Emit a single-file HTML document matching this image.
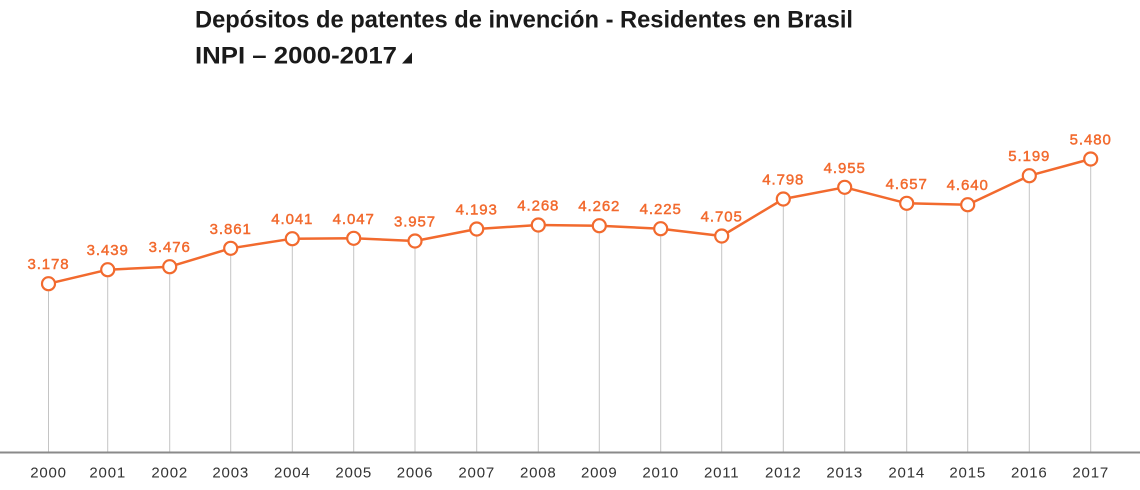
<!DOCTYPE html>
<html>
<head>
<meta charset="utf-8">
<style>
html,body{margin:0;padding:0;background:#fff;}
svg{display:block;}
</style>
</head>
<body>
<svg width="1140" height="490" viewBox="0 0 1140 490" xmlns="http://www.w3.org/2000/svg" font-family="Liberation Sans, sans-serif">
<text x="195" y="27.5" font-size="24" font-weight="bold" fill="#1a1a1a" textLength="658" lengthAdjust="spacingAndGlyphs">Depósitos de patentes de invención - Residentes en Brasil</text>
<text x="195" y="63.5" font-size="24" font-weight="bold" fill="#1a1a1a" textLength="202" lengthAdjust="spacingAndGlyphs">INPI – 2000-2017</text>
<polygon points="402,63.5 412,63.5 412,52.5" fill="#1a1a1a"/>

<g stroke="#c4c4c4" stroke-width="1">
<line x1="48.5" y1="283.7" x2="48.5" y2="452"/>
<line x1="107.7" y1="269.7" x2="107.7" y2="452"/>
<line x1="169.7" y1="266.7" x2="169.7" y2="452"/>
<line x1="230.7" y1="248.3" x2="230.7" y2="452"/>
<line x1="292.3" y1="238.7" x2="292.3" y2="452"/>
<line x1="353.7" y1="238.3" x2="353.7" y2="452"/>
<line x1="415" y1="241" x2="415" y2="452"/>
<line x1="476.7" y1="229" x2="476.7" y2="452"/>
<line x1="538.3" y1="225" x2="538.3" y2="452"/>
<line x1="599.3" y1="225.7" x2="599.3" y2="452"/>
<line x1="660.7" y1="228.7" x2="660.7" y2="452"/>
<line x1="721.7" y1="236" x2="721.7" y2="452"/>
<line x1="783.3" y1="199" x2="783.3" y2="452"/>
<line x1="844.7" y1="187.3" x2="844.7" y2="452"/>
<line x1="906.7" y1="203.3" x2="906.7" y2="452"/>
<line x1="967.7" y1="204.7" x2="967.7" y2="452"/>
<line x1="1029.3" y1="175.7" x2="1029.3" y2="452"/>
<line x1="1090.7" y1="159" x2="1090.7" y2="452"/>
</g>
<line x1="0" y1="452.5" x2="1140" y2="452.5" stroke="#8a8a8a" stroke-width="2"/>

<polyline fill="none" stroke="#f26a2e" stroke-width="2.5" stroke-linejoin="round" points="48.5,283.7 107.7,269.7 169.7,266.7 230.7,248.3 292.3,238.7 353.7,238.3 415,241 476.7,229 538.3,225 599.3,225.7 660.7,228.7 721.7,236 783.3,199 844.7,187.3 906.7,203.3 967.7,204.7 1029.3,175.7 1090.7,159"/>

<g fill="#fff" stroke="#f26a2e" stroke-width="2.2">
<circle cx="48.5" cy="283.7" r="6.5"/>
<circle cx="107.7" cy="269.7" r="6.5"/>
<circle cx="169.7" cy="266.7" r="6.5"/>
<circle cx="230.7" cy="248.3" r="6.5"/>
<circle cx="292.3" cy="238.7" r="6.5"/>
<circle cx="353.7" cy="238.3" r="6.5"/>
<circle cx="415" cy="241" r="6.5"/>
<circle cx="476.7" cy="229" r="6.5"/>
<circle cx="538.3" cy="225" r="6.5"/>
<circle cx="599.3" cy="225.7" r="6.5"/>
<circle cx="660.7" cy="228.7" r="6.5"/>
<circle cx="721.7" cy="236" r="6.5"/>
<circle cx="783.3" cy="199" r="6.5"/>
<circle cx="844.7" cy="187.3" r="6.5"/>
<circle cx="906.7" cy="203.3" r="6.5"/>
<circle cx="967.7" cy="204.7" r="6.5"/>
<circle cx="1029.3" cy="175.7" r="6.5"/>
<circle cx="1090.7" cy="159" r="6.5"/>
</g>

<g fill="#f26a2e" stroke="#f26a2e" stroke-width="0.45" font-size="15" text-anchor="middle" letter-spacing="0.9">
<text x="48.5" y="269.2">3.178</text>
<text x="107.7" y="255.2">3.439</text>
<text x="169.7" y="252.2">3.476</text>
<text x="230.7" y="233.8">3.861</text>
<text x="292.3" y="224.2">4.041</text>
<text x="353.7" y="223.8">4.047</text>
<text x="415" y="226.5">3.957</text>
<text x="476.7" y="214.5">4.193</text>
<text x="538.3" y="210.5">4.268</text>
<text x="599.3" y="211.2">4.262</text>
<text x="660.7" y="214.2">4.225</text>
<text x="721.7" y="221.5">4.705</text>
<text x="783.3" y="184.5">4.798</text>
<text x="844.7" y="172.8">4.955</text>
<text x="906.7" y="188.8">4.657</text>
<text x="967.7" y="190.2">4.640</text>
<text x="1029.3" y="161.2">5.199</text>
<text x="1090.7" y="144.5">5.480</text>
</g>

<g fill="#333" font-size="15" text-anchor="middle" letter-spacing="0.8">
<text x="48.5" y="477.3">2000</text>
<text x="107.7" y="477.3">2001</text>
<text x="169.7" y="477.3">2002</text>
<text x="230.7" y="477.3">2003</text>
<text x="292.3" y="477.3">2004</text>
<text x="353.7" y="477.3">2005</text>
<text x="415" y="477.3">2006</text>
<text x="476.7" y="477.3">2007</text>
<text x="538.3" y="477.3">2008</text>
<text x="599.3" y="477.3">2009</text>
<text x="660.7" y="477.3">2010</text>
<text x="721.7" y="477.3">2011</text>
<text x="783.3" y="477.3">2012</text>
<text x="844.7" y="477.3">2013</text>
<text x="906.7" y="477.3">2014</text>
<text x="967.7" y="477.3">2015</text>
<text x="1029.3" y="477.3">2016</text>
<text x="1090.7" y="477.3">2017</text>
</g>
</svg>
</body>
</html>
